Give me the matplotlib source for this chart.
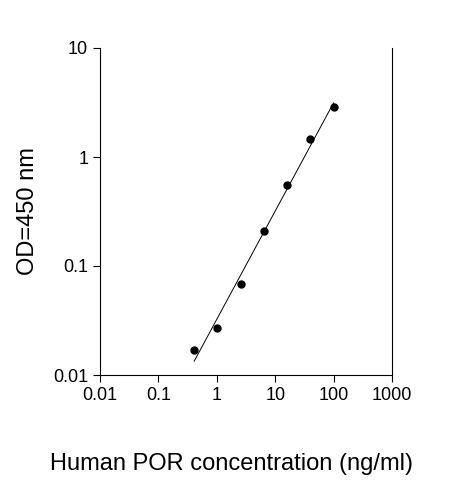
import matplotlib.pyplot as plt
import numpy as np

plt.rcParams["font.family"] = ["Liberation Sans", "DejaVu Sans"]

conc = [0.41, 1.02, 2.56, 6.4, 16, 40, 100]
od = [0.017, 0.027, 0.068, 0.21, 0.55, 1.45, 2.9]
xticks = [0.01, 0.1, 1, 10, 100, 1000]
xlabels = ["0.01", "0.1", "1", "10", "100", "1000"]
yticks = [0.01, 0.1, 1, 10]
ylabels = ["0.01", "0.1", "1", "10"]

fig = plt.figure(figsize=(4.63, 4.80), dpi=100)
ax = fig.add_axes([100/463, 105/480, 292/463, 327/480])

# linear fit in log-log space
k, b = np.polyfit(np.log10(conc), np.log10(od), 1)
xs = np.array([conc[0], conc[-1]])
ax.plot(xs, 10**(k*np.log10(xs) + b), color="black", lw=0.7)
ax.scatter(conc, od, color="black", s=25, zorder=3)

ax.set_xscale("log")
ax.set_yscale("log")
ax.set_xlim(0.01, 1000)
ax.set_ylim(0.01, 10)
ax.set_xticks(xticks)
ax.set_xticklabels(xlabels)
ax.set_yticks(yticks)
ax.set_yticklabels(ylabels)
ax.minorticks_off()
ax.tick_params(labelsize=13, length=5, direction="out")
ax.spines["top"].set_visible(False)
ax.set_xlabel("Human POR concentration (ng/ml)", fontsize=17, labelpad=25)
ax.xaxis.set_label_coords(0.45, -0.24)
ax.set_ylabel("OD=450 nm", fontsize=17, labelpad=10)

fig.savefig("out.png")
